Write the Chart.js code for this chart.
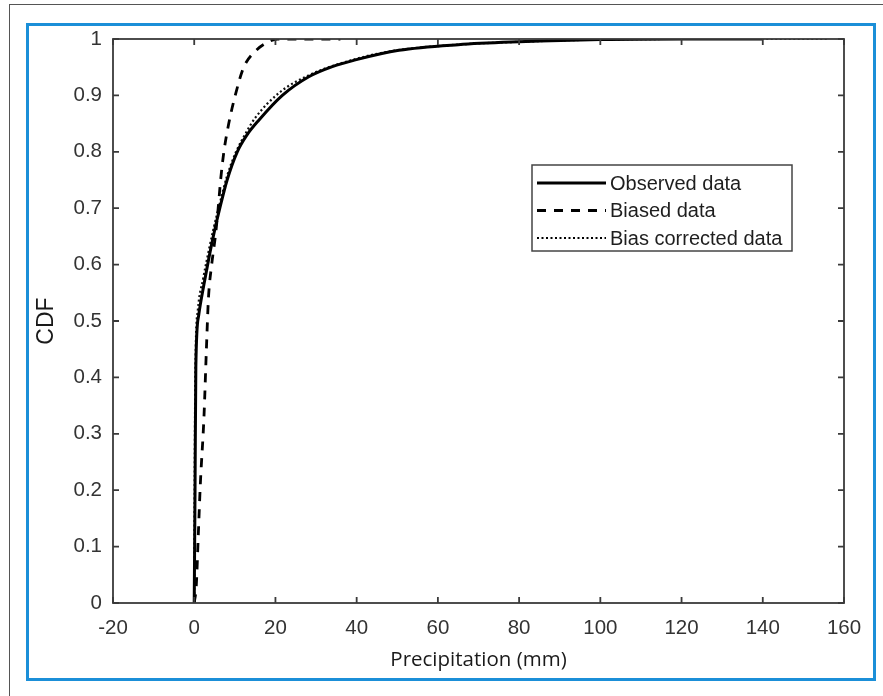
<!DOCTYPE html>
<html>
<head>
<meta charset="utf-8">
<script src="https://cdn.jsdelivr.net/npm/chart.js@4"></script>
<style>
body { margin: 0; background: #fff; overflow: hidden; }
#page { position: relative; width: 883px; height: 696px; overflow: hidden; }
#outer { position: absolute; left: 9px; top: 4px; width: 900px; height: 720px; border-left: 1.5px solid #555; border-top: 1.5px solid #555; }
#frame { position: absolute; left: 26px; top: 23px; width: 844px; height: 652px; border: 3px solid #1b8fd8; }
#wrap { position: absolute; left: 0; top: 0; width: 883px; height: 696px; }
</style>
</head>
<body>
<div id="page">
  <div id="outer"></div>
  <div id="frame"></div>
  <div id="wrap"><canvas id="cdf"></canvas></div>
</div>
<script>
// axis ticks
var xTicks = [-20, 0, 20, 40, 60, 80, 100, 120, 140, 160];
var yTicks = [0, 0.1, 0.2, 0.3, 0.4, 0.5, 0.6, 0.7, 0.8, 0.9, 1];

// series (precipitation mm -> CDF)
var obsX = [0, 0.2, 0.4, 1.1, 2.4, 3.7, 5.0, 6.3, 8.1, 10.6, 13, 15.9, 21.7, 28.2, 34, 39.7, 50.4, 65, 80, 100, 120, 140];
var obsY = [0, 0.2, 0.42, 0.51, 0.565, 0.615, 0.66, 0.7, 0.75, 0.8, 0.83, 0.856, 0.9, 0.933, 0.951, 0.963, 0.98, 0.99, 0.995, 0.999, 1, 1];

var biasX = [0, 0.5, 1.0, 1.5, 2.4, 3.0, 3.5, 4.3, 5.2, 5.9, 6.5, 7.3, 8.5, 10.1, 12.2, 15, 17.5, 20.5, 36];
var biasY = [0, 0.03, 0.12, 0.21, 0.33, 0.45, 0.54, 0.6, 0.65, 0.7, 0.75, 0.8, 0.85, 0.9, 0.95, 0.978, 0.992, 1, 1];

var corrX = [0, 0.1, 0.3, 0.9, 2.2, 3.5, 4.8, 6.1, 8.0, 10.3, 12.7, 15, 21, 28, 40, 50, 65, 80, 100, 120, 156];
var corrY = [0, 0.2, 0.42, 0.52, 0.575, 0.622, 0.665, 0.703, 0.755, 0.8, 0.833, 0.86, 0.905, 0.935, 0.965, 0.98, 0.99, 0.995, 0.999, 1, 1];

var seriesNames = ["Observed data", "Biased data", "Bias corrected data"];

function toPoints(xs, ys) {
    var pts = [];
    for (var i = 0; i < xs.length; i++) {
        pts.push({x: xs[i], y: ys[i]});
    }
    return pts;
}

var tickFont = {family: "'Liberation Sans', Arial, sans-serif", size: 20.5};

// MATLAB style box, inward ticks on all sides, and legend inside the axes
var boxPlugin = {
    id: "matlabBox",
    afterDatasetsDraw: function(chart) {
        var ctx = chart.ctx;
        var a = chart.chartArea;
        var xs = chart.scales.x, ys = chart.scales.y;
        ctx.save();
        ctx.strokeStyle = "#3a3a3a";
        ctx.lineWidth = 1.8;
        ctx.setLineDash([]);
        ctx.strokeRect(a.left, a.top, a.right - a.left, a.bottom - a.top);
        ctx.beginPath();
        xs.ticks.forEach(function(t) {
            var px = xs.getPixelForValue(t.value);
            ctx.moveTo(px, a.bottom); ctx.lineTo(px, a.bottom - 6);
            ctx.moveTo(px, a.top); ctx.lineTo(px, a.top + 6);
        });
        ys.ticks.forEach(function(t) {
            var py = ys.getPixelForValue(t.value);
            ctx.moveTo(a.left, py); ctx.lineTo(a.left + 6, py);
            ctx.moveTo(a.right, py); ctx.lineTo(a.right - 6, py);
        });
        ctx.stroke();

        // legend
        var lx = a.right - 312, ly = a.top + 126, lw = 260, lh = 86;
        ctx.fillStyle = "#fff";
        ctx.fillRect(lx, ly, lw, lh);
        ctx.strokeStyle = "#444";
        ctx.lineWidth = 1.5;
        ctx.strokeRect(lx, ly, lw, lh);
        ctx.font = "20px 'Liberation Sans', Arial, sans-serif";
        ctx.textBaseline = "middle";
        ctx.fillStyle = "#1e1e1e";
        chart.data.datasets.forEach(function(ds, i) {
            var y = ly + 18 + i * 27.5;
            ctx.beginPath();
            ctx.strokeStyle = "#000";
            ctx.lineWidth = ds.borderWidth;
            ctx.setLineDash(ds.borderDash || []);
            ctx.moveTo(lx + 5, y);
            ctx.lineTo(lx + 74, y);
            ctx.stroke();
            ctx.setLineDash([]);
            ctx.fillText(ds.label, lx + 78, y + 1);
        });
        ctx.restore();
    }
};

new Chart(document.getElementById("cdf"), {
    type: "scatter",
    data: {
        datasets: [{
            label: seriesNames[0],
            data: toPoints(obsX, obsY),
            showLine: true,
            borderColor: "#000",
            borderWidth: 3,
            pointRadius: 0,
            cubicInterpolationMode: "monotone"
        }, {
            label: seriesNames[1],
            data: toPoints(biasX, biasY),
            showLine: true,
            borderColor: "#000",
            borderWidth: 2.8,
            borderDash: [9, 8],
            pointRadius: 0,
            cubicInterpolationMode: "monotone"
        }, {
            label: seriesNames[2],
            data: toPoints(corrX, corrY),
            showLine: true,
            borderColor: "#111",
            borderWidth: 2.2,
            borderDash: [2, 2.5],
            pointRadius: 0,
            cubicInterpolationMode: "monotone"
        }]
    },
    options: {
        responsive: true,
        maintainAspectRatio: false,
        animation: false,
        layout: {padding: {left: 33, right: 39, top: 39, bottom: 24}},
        plugins: {legend: {display: false}, tooltip: {enabled: false}},
        scales: {
            x: {
                type: "linear",
                min: -20,
                max: 160,
                afterBuildTicks: function(scale) {
                    scale.ticks = xTicks.map(function(v) { return {value: v}; });
                },
                afterFit: function(scale) { scale.height = 69; },
                ticks: {font: tickFont, color: "#333", padding: 13, maxRotation: 0},
                grid: {display: false, drawTicks: false},
                border: {display: false},
                title: {
                    display: true,
                    text: "Precipitation (mm)",
                    font: {family: "'Open Sans', sans-serif", size: 20.5},
                    color: "#1a1a1a",
                    padding: 0
                }
            },
            y: {
                type: "linear",
                min: 0,
                max: 1,
                afterBuildTicks: function(scale) {
                    scale.ticks = yTicks.map(function(v) { return {value: v}; });
                },
                afterFit: function(scale) { scale.width = 80; },
                ticks: {
                    font: tickFont,
                    color: "#333",
                    padding: 11,
                    callback: function(v) { return String(Math.round(v * 10) / 10); }
                },
                grid: {display: false, drawTicks: false},
                border: {display: false},
                title: {
                    display: true,
                    text: "CDF",
                    font: {family: "'Liberation Sans', Arial, sans-serif", size: 23},
                    color: "#1a1a1a",
                    padding: 0
                }
            }
        }
    },
    plugins: [boxPlugin]
});
</script>
</body>
</html>
